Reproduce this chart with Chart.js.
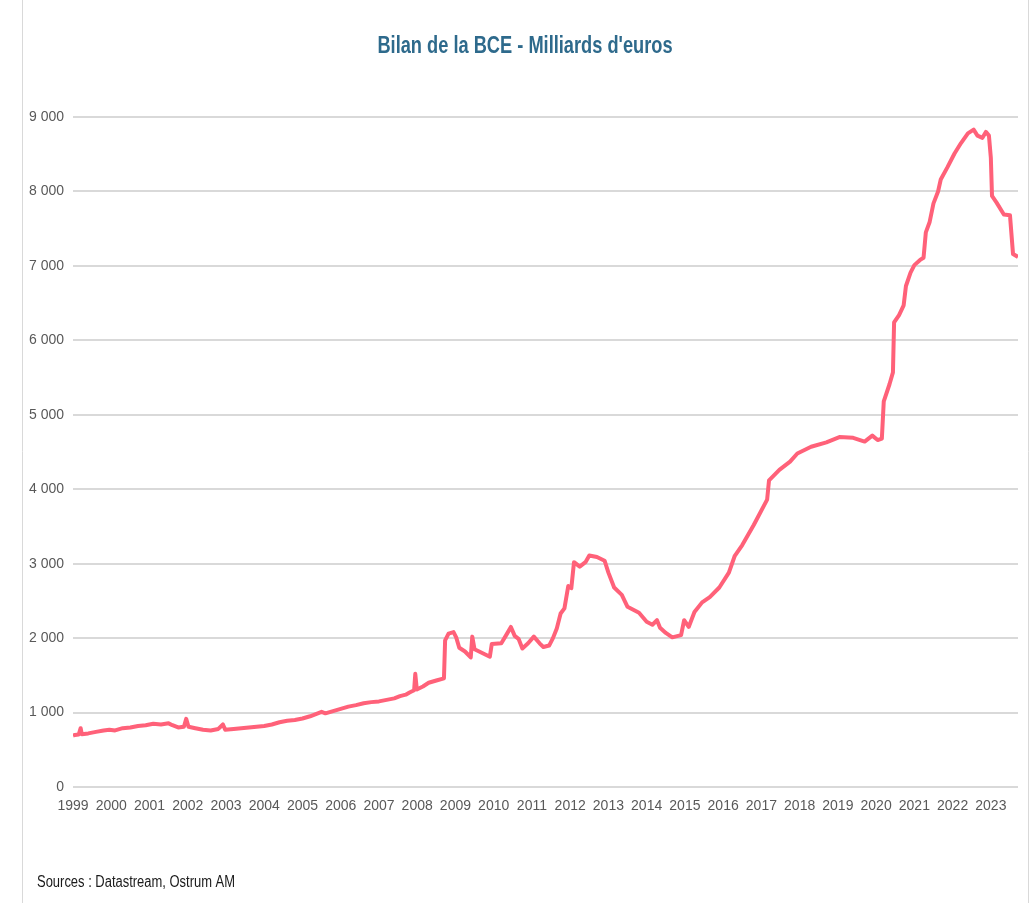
<!DOCTYPE html>
<html>
<head>
<meta charset="utf-8">
<script src="https://cdn.jsdelivr.net/npm/chart.js@4/dist/chart.umd.min.js"></script>
<style>
  body { margin: 0; background: #fff; }
  #wrap { position: relative; width: 1036px; height: 903px; }
</style>
</head>
<body>
<div id="wrap"><canvas id="chart" width="1036" height="903"></canvas></div>
<script>
// ECB balance sheet, bn EUR
const years = [1999, 2000, 2001, 2002, 2003, 2004, 2005, 2006, 2007, 2008, 2009, 2010, 2011,
  2012, 2013, 2014, 2015, 2016, 2017, 2018, 2019, 2020, 2021, 2022, 2023];

const dates = [
  1999.00, 1999.05, 1999.15, 1999.20, 1999.23, 1999.40, 1999.60, 1999.80, 1999.95,
  2000.10, 2000.30, 2000.50, 2000.70, 2000.90, 2001.10, 2001.30, 2001.50, 2001.60, 2001.75, 2001.90,
  2001.96, 2002.02, 2002.20, 2002.40, 2002.60, 2002.80, 2002.92, 2002.98, 2003.20, 2003.40,
  2003.60, 2003.80, 2004.00, 2004.20, 2004.40, 2004.60, 2004.80, 2005.00, 2005.20, 2005.40,
  2005.50, 2005.60, 2005.80, 2006.00, 2006.20, 2006.40, 2006.60, 2006.80, 2007.00, 2007.20,
  2007.40, 2007.55, 2007.70, 2007.80, 2007.92, 2007.95, 2007.99, 2008.15, 2008.30, 2008.50,
  2008.70, 2008.73, 2008.82, 2008.95, 2009.02, 2009.10, 2009.25, 2009.40, 2009.44, 2009.50,
  2009.70, 2009.90, 2009.95, 2010.20, 2010.35, 2010.45, 2010.55, 2010.65, 2010.75, 2010.90,
  2011.05, 2011.20, 2011.30, 2011.45, 2011.55, 2011.65, 2011.75, 2011.85, 2011.95, 2012.03,
  2012.10, 2012.25, 2012.40, 2012.50, 2012.70, 2012.90, 2013.00, 2013.15, 2013.35, 2013.50,
  2013.80, 2014.00, 2014.15, 2014.27, 2014.35, 2014.50, 2014.67, 2014.90, 2014.98, 2015.10,
  2015.25, 2015.45, 2015.65, 2015.90, 2016.15, 2016.30, 2016.50, 2016.80, 2017.15, 2017.20,
  2017.47, 2017.75, 2017.94, 2018.30, 2018.70, 2019.04, 2019.40, 2019.70, 2019.90, 2020.04,
  2020.15, 2020.20, 2020.35, 2020.44, 2020.47, 2020.60, 2020.72, 2020.78, 2020.90, 2021.00,
  2021.15, 2021.24, 2021.30, 2021.40, 2021.50, 2021.62, 2021.69, 2021.87, 2022.05, 2022.22,
  2022.40, 2022.55, 2022.65, 2022.78, 2022.87, 2022.95, 2023.00, 2023.03, 2023.15, 2023.34,
  2023.50, 2023.58, 2023.71
];

const bilan = [
  690, 700, 705, 790, 710, 720, 740, 760, 770,
  760, 790, 800, 820, 830, 850, 840, 855, 830, 800, 810,
  915, 810, 790, 770, 760, 780, 840, 770, 780, 790,
  800, 810, 820, 840, 870, 890, 900, 920, 950, 990,
  1010, 990, 1020, 1050, 1080, 1100, 1125, 1140, 1150, 1170,
  1190, 1220, 1240, 1270, 1300, 1520, 1310, 1350, 1400, 1430,
  1460, 1970, 2060, 2080, 2010, 1870, 1820, 1740, 2020, 1850,
  1800, 1750, 1920, 1930, 2060, 2150, 2030, 1990, 1860, 1930,
  2020, 1930, 1880, 1900, 2000, 2130, 2330, 2400, 2700, 2670,
  3020, 2960, 3020, 3110, 3090, 3040, 2880, 2680, 2580, 2420,
  2340, 2220, 2180, 2240, 2140, 2070, 2010, 2040, 2240, 2150,
  2350, 2480, 2550, 2680, 2880, 3100, 3250, 3520, 3860, 4120,
  4260, 4370, 4480, 4570, 4630, 4700, 4690, 4640, 4720, 4660,
  4680, 5180, 5410, 5570, 6240, 6340, 6470, 6730, 6910, 7010,
  7080, 7110, 7450, 7590, 7840, 8000, 8160, 8330, 8510, 8650,
  8780, 8830, 8750, 8720, 8800, 8750, 8450, 7940, 7850, 7690,
  7680, 7160, 7120
];

const titre = "Bilan de la BCE - Milliards d'euros";
const source = 'Sources : Datastream, Ostrum AM';

const police = "'Liberation Sans', Arial, sans-serif";

// draws condensed text (no narrow font installed)
function texteEtroit(c, txt, x, y, sx, align) {
  c.save();
  c.translate(x, y);
  c.scale(sx, 1);
  c.textAlign = align;
  c.fillText(txt, 0, 0);
  c.restore();
}

// frame, title and source text
const decor = {
  id: 'decor',
  beforeDraw(chart) {
    const c = chart.ctx;
    c.save();
    c.fillStyle = '#fff';
    c.fillRect(0, 0, chart.width, chart.height);
    c.strokeStyle = '#d9d9d9';
    c.lineWidth = 1;
    c.beginPath();
    c.moveTo(22.5, 0); c.lineTo(22.5, 903);
    c.moveTo(1028.5, 0); c.lineTo(1028.5, 903);
    c.stroke();
    c.restore();
  },
  afterDraw(chart) {
    const c = chart.ctx;
    c.save();
    c.textBaseline = 'alphabetic';
    c.fillStyle = '#2e6a8c';
    c.font = 'bold 24px ' + police;
    texteEtroit(c, titre, 525, 53, 0.76, 'center');
    c.fillStyle = '#1a1a1a';
    c.font = '16px ' + police;
    texteEtroit(c, source, 37, 887, 0.81, 'left');
    c.restore();
  }
};

const points = dates.map((d, i) => ({ x: d, y: bilan[i] }));

new Chart(document.getElementById('chart'), {
  type: 'line',
  data: {
    datasets: [{
      label: 'Bilan BCE',
      data: points,
      borderColor: '#ff6179',
      borderWidth: 4,
      pointRadius: 0,
      tension: 0,
      borderJoinStyle: 'round'
    }]
  },
  options: {
    responsive: false,
    animation: false,
    layout: { padding: { top: 117, right: 18, bottom: 76, left: 0 } },
    plugins: {
      legend: { display: false },
      tooltip: { enabled: false }
    },
    scales: {
      x: {
        type: 'linear',
        min: 1999,
        max: 2023.71,
        afterBuildTicks: (s) => { s.ticks = years.map(v => ({ value: v })); },
        afterFit: (s) => { s.height = 40; },
        grid: { display: false, drawTicks: false },
        border: { display: false },
        ticks: {
          autoSkip: false,
          maxRotation: 0,
          padding: 11,
          color: '#595959',
          font: { family: police, size: 14 },
          callback: (v) => String(v)
        }
      },
      y: {
        min: 0,
        max: 9000,
        afterFit: (s) => { s.width = 73; },
        border: { display: false },
        grid: { color: '#d9d9d9', lineWidth: 2, drawTicks: false },
        ticks: {
          stepSize: 1000,
          padding: 9,
          color: '#595959',
          font: { family: police, size: 14 },
          callback: (v) => String(v).replace(/\B(?=(\d{3})+(?!\d))/g, ' ')
        }
      }
    }
  },
  plugins: [decor]
});
</script>
</body>
</html>
